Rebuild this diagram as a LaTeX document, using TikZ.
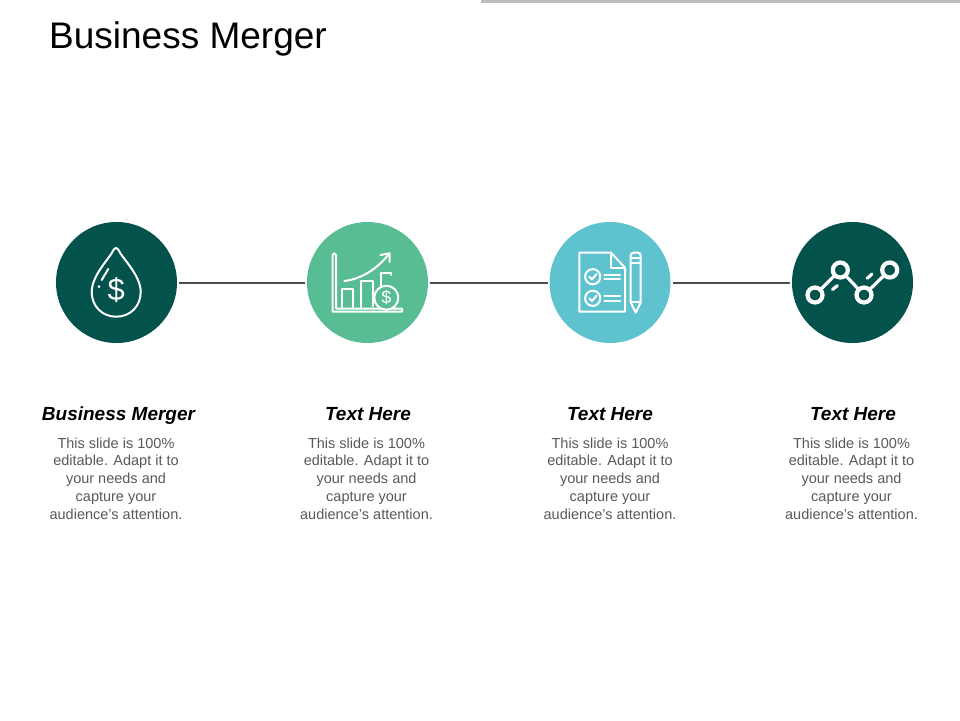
\documentclass[tikz,border=0pt]{standalone}
\usepackage{fontspec}
\setmainfont{Liberation Sans}
\definecolor{darkteal}{HTML}{03524C}
\definecolor{midgreen}{HTML}{58BD92}
\definecolor{skyblue}{HTML}{5FC3CF}
\definecolor{bodygray}{HTML}{595959}
\definecolor{topgray}{HTML}{BEBEBE}
\definecolor{linkgray}{HTML}{4D4D4D}
\tikzset{
disc/.style={circle,minimum size=121pt,inner sep=0pt,outer sep=2pt},
link/.style={draw=linkgray,line width=2pt},
icon/.style={draw=white,line width=2pt,line join=round,line cap=round},
heading/.style={anchor=base,font=\fontsize{19}{22}\selectfont\bfseries\itshape,text=black,inner sep=0pt},
blurb/.style={font=\fontsize{14.5}{17.7}\selectfont,text=bodygray,align=center,inner sep=0pt}
}
\newcommand{\blurbtext}{This slide is 100\%\\editable. Adapt it to\\your needs and\\capture your\\audience's attention.}
\begin{document}
\begin{tikzpicture}[x=1pt,y=-1pt]
\useasboundingbox (0,0) rectangle (960,720);
\fill [topgray] (481,0) rectangle (960,3);
\node [anchor=base west,inner sep=0pt,font=\fontsize{37}{40}\selectfont] (title) at (49,48) {Business Merger};

\node [disc,fill=darkteal] (drop) at (116.5,282.5) {};
\node [disc,fill=midgreen] (chart) at (367.5,282.5) {};
\node [disc,fill=skyblue] (doc) at (610,282.5) {};
\node [disc,fill=darkteal] (net) at (852.5,282.5) {};
\draw [link] (drop) -- (chart);
\draw [link] (chart) -- (doc);
\draw [link] (doc) -- (net);

% drop
\draw [icon] (113.5,250) .. controls (110,258) and (91.7,275) .. (91.7,292)
.. controls (91.7,306) and (102,316.7) .. (116.2,316.7)
.. controls (130.5,316.7) and (140.7,306) .. (140.7,292)
.. controls (140.7,275) and (122,258) .. (118.5,250)
.. controls (117,247.5) and (115,247.5) .. (113.5,250);
\draw [icon] (108.3,269) -- (101.7,280);
\fill [white] (99,286.7) circle (1.5);
\node [text=white,inner sep=0pt,font=\fontsize{31}{31}\selectfont] (dollar) at (116.2,290.5) {\$};

% chart
\draw [icon] (336,308.5) -- (336,255) arc (0:-180:1.7) -- (332.6,311.7) -- (402,311.7) -- (402,308.5) -- cycle;
\draw [icon] (342.3,308.5) -- (342.3,289) -- (353.3,289) -- (353.3,308.5);
\draw [icon] (361,308.5) -- (361,281) -- (372.7,281) -- (372.7,306);
\draw [icon] (391,272.5) -- (381,272.5) -- (381,286);
\draw [icon] (391,272.5) -- (391,275);
\draw [icon] (344.3,281) .. controls (362,279) and (378,268) .. (389,254);
\draw [icon] (380.5,255) -- (389.5,253.3) -- (389.5,262);
\draw [icon,fill=midgreen] (386.3,297.7) circle (12);
\node [text=white,inner sep=0pt,font=\fontsize{18}{18}\selectfont] (coin) at (386.3,297.7) {\$};

% document
\draw [icon] (611,252.7) -- (579.3,252.7) -- (579.3,311.7) -- (625,311.7) -- (625,267.7) -- cycle;
\draw [icon] (611,252.7) -- (611,267.7) -- (625,267.7);
\foreach \y in {276.7,298.3}
{
\draw [icon] (592.7,\y) circle (7.6);
\draw [icon] (589.3,\y) -- (592,\y+2.7) -- (596.5,\y-2.5);
\draw [icon] (604.3,\y-1.9) -- (620,\y-1.9);
\draw [icon] (604.3,\y+2.4) -- (620,\y+2.4);
}
\draw [icon] (630.7,302.3) -- (630.7,255.7) .. controls (630.7,253.5) and (632,252.7) .. (633.7,252.7) -- (637.7,252.7) .. controls (639.5,252.7) and (640.7,253.5) .. (640.7,255.7) -- (640.7,302.3) -- (635.7,312.7) -- cycle;
\draw [icon] (630.7,258) -- (640.7,258);
\draw [icon] (630.7,262.7) -- (640.7,262.7);
\draw [icon] (630.7,302.3) -- (640.7,302.3);

% network
\tikzset{dot/.style={circle,draw=white,line width=4.2pt,minimum size=15pt,inner sep=0pt,outer sep=0pt}}
\node [dot] (p1) at (815,295) {};
\node [dot] (p2) at (840.3,270) {};
\node [dot] (p3) at (864,295) {};
\node [dot] (p4) at (889.7,270) {};
\draw [white,line width=3.2pt] (p1) -- (p2);
\draw [white,line width=3.2pt] (p2) -- (p3);
\draw [white,line width=3.2pt] (p3) -- (p4);
\draw [white,line width=3.2pt,line cap=round] (832.5,289.5) -- (837.3,285.7);
\draw [white,line width=3.2pt,line cap=round] (867.3,278.3) -- (872,274);

\node [heading] (head1) at (118.5,420) {Business Merger};
\node [heading] (head2) at (368,420) {Text Here};
\node [heading] (head3) at (610,420) {Text Here};
\node [heading] (head4) at (853,420) {Text Here};
\node [blurb] (blurb1) at (116,478.5) {\blurbtext};
\node [blurb] (blurb2) at (366.5,478.5) {\blurbtext};
\node [blurb] (blurb3) at (610,478.5) {\blurbtext};
\node [blurb] (blurb4) at (851.5,478.5) {\blurbtext};
\end{tikzpicture}
\end{document}
